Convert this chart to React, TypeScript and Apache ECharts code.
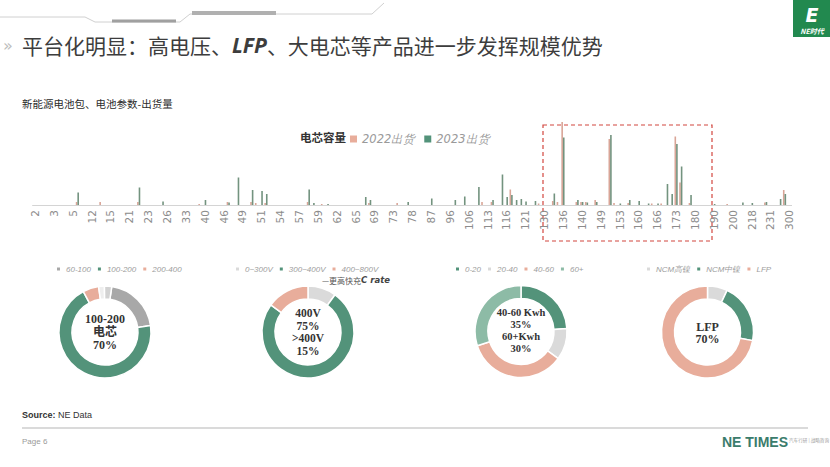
import React, { useEffect, useRef } from 'react';
import * as echarts from 'echarts';

// ---------- data ----------
const capacityCategories: string[] = [
  '2', '2.2', '2.5', '2.8', '3', '3.5', '4', '4.5', '5', '6', '8', '10',
  '12', '13', '14', '14.5', '15', '17', '19', '20', '21', '21.5', '22', '22.5',
  '23', '24', '25', '25.5', '26', '28', '30', '32', '33', '35', '37', '38',
  '40', '42', '43', '45', '46', '47', '48', '48.5', '49', '50', '50.5', '50.8',
  '51', '52', '52.5', '53', '54', '55', '56', '56.5', '57', '57.5', '58', '58.5',
  '59', '60', '60.5', '61', '62', '63', '64', '64.5', '65', '66', '67', '68',
  '69', '70', '71', '72', '73', '74', '75', '76', '78', '80', '82', '85',
  '87', '89', '92', '94', '96', '100', '102', '104', '106', '108', '110', '112',
  '113', '114', '114.5', '115', '116', '117', '118', '120', '121', '123', '125', '128',
  '130', '132', '133', '135', '136', '137', '138', '139', '140', '142', '145', '148',
  '149', '150', '151', '152', '153', '155', '156', '158', '160', '161', '163', '165',
  '166', '168', '170', '172', '173', '174', '176', '178', '180', '182', '184', '187',
  '190', '192', '195', '198', '200', '205', '210', '215', '218', '220', '225', '228',
  '231', '240', '250', '280', '300',
];

const shipments2022: [string, number][] = [
  ['6', 3], ['14', 3], ['22', 3], ['38', 1], ['47', 3], ['50.5', 3], ['50.8', 2],
  ['52', 2], ['58', 3], ['60', 1], ['68', 2], ['74', 2], ['112', 3], ['114', 3],
  ['117', 15.5], ['128', 1.5], ['133', 4], ['135', 3], ['136', 83], ['139', 3],
  ['140', 3], ['142', 3], ['148', 5], ['151', 66], ['152', 2], ['156', 2],
  ['165', 1.5], ['168', 1.5], ['173', 68.5], ['174', 22.5], ['178', 2], ['198', 1],
  ['228', 2.5], ['280', 15],
];

const shipments2023: [string, number][] = [
  ['6', 12.5], ['22', 17.5], ['25.5', 3.5], ['40', 5], ['47', 2.5], ['48.5', 27.5],
  ['50.5', 15], ['51', 14], ['52', 11], ['58', 15.5], ['58.5', 2], ['60.5', 1],
  ['67', 8], ['68', 5], ['76', 3], ['87', 6.5], ['100', 5], ['104', 8.5], ['110', 18],
  ['114', 5], ['115', 30.5], ['116', 8], ['117', 10], ['118', 5], ['120', 6],
  ['121', 3.5], ['125', 4], ['133', 11.5], ['136', 67.5], ['139', 5], ['140', 3],
  ['142', 2.5], ['148', 3], ['151', 70], ['153', 1.5], ['156', 5], ['160', 4],
  ['163', 1.5], ['166', 1.5], ['170', 21], ['172', 11], ['173', 61], ['174', 38.5],
  ['178', 10], ['190', 1], ['210', 2.5], ['218', 2], ['228', 3], ['250', 6], ['280', 11],
];

const barSeriesNames = ['2022出货', '2023出货'];

const cellCapNames = ['60-100', '100-200', '200-400', '400+', '<60'];
const cellCapShares = [20, 68, 5.5, 2, 2.5];

const voltageNames = ['0~300V', '300~400V', '400~800V'];
const voltageShares = [10, 75, 15];

const energyNames = ['0-20', '20-40', '40-60', '60+'];
const energyShares = [24, 11, 35, 30];

const chemistryNames = ['NCM高镍', 'NCM中镍', 'LFP'];
const chemistryShares = [7, 21, 72];

// ---------- styles ----------
const PINK = '#e8ad9b';
const GREEN = '#53937a';
const LGRAY = '#dadada';
const MGRAY = '#a8a8a8';
const LGREEN = '#8dbba6';

const cellCapColors = [MGRAY, GREEN, PINK, '#eeeeee', '#d2d2d2'];
const voltageColors = [LGRAY, GREEN, PINK];
const energyColors = [GREEN, LGRAY, PINK, LGREEN];
const chemistryColors = [LGRAY, GREEN, PINK];

function fullSeries(pairs: [string, number][]): number[] {
  const m = new Map(pairs);
  return capacityCategories.map((c) => m.get(c) ?? 0);
}

function pieData(names: string[], vals: number[], colors: string[]) {
  return names.map((n, i) => ({ name: n, value: vals[i], itemStyle: { color: colors[i] } }));
}

function pieSeries(name: string, center: number[], startAngle: number, data: any[]) {
  return {
    type: 'pie',
    name,
    center,
    radius: [33, 46],
    startAngle,
    clockwise: true,
    silent: true,
    label: { show: false },
    labelLine: { show: false },
    emphasis: { disabled: true },
    itemStyle: { borderColor: '#ffffff', borderWidth: 1.5 },
    data,
  };
}

const pieLegendBase = {
  orient: 'horizontal',
  itemWidth: 5,
  itemHeight: 5,
  itemGap: 5,
  icon: 'rect',
  selectedMode: false,
  textStyle: { fontSize: 8, color: '#9d9d9d', fontStyle: 'italic', fontFamily: 'Liberation Sans' },
  padding: 0,
};

const centerText = (text: string, x: number, y: number, lh: number, size = 12) => ({
  type: 'text',
  style: {
    text,
    x,
    y,
    align: 'center',
    verticalAlign: 'middle',
    fontSize: size,
    fontWeight: 'bold',
    fontFamily: 'Liberation Serif, Noto Sans CJK SC',
    lineHeight: lh,
    fill: '#333333',
  },
});

export default function App() {
  const ref = useRef<HTMLDivElement>(null);
  useEffect(() => {
    if (!ref.current) return;
    const chart = echarts.init(ref.current, undefined, { renderer: 'svg' });
    const option: any = {
      animation: false,
      backgroundColor: '#ffffff',
      grid: { left: 32.6, right: 38.4, top: 120, bottom: 262, containLabel: false },
      xAxis: {
        type: 'category',
        data: capacityCategories,
        axisLine: { lineStyle: { color: '#d4d4d4', width: 1 } },
        axisTick: { show: false },
        axisLabel: {
          interval: 3,
          rotate: 90,
          fontSize: 10.5,
          color: '#8c8c8c',
          margin: 5,
          fontFamily: 'DejaVu Sans',
        },
      },
      yAxis: { type: 'value', min: 0, max: 85, show: false, splitLine: { show: false } },
      legend: [
        {
          data: [
            { name: barSeriesNames[0], itemStyle: { color: PINK } },
            { name: barSeriesNames[1], itemStyle: { color: GREEN } },
          ],
          left: 350,
          top: 133,
          itemWidth: 7,
          itemHeight: 7,
          itemGap: 9,
          icon: 'rect',
          selectedMode: false,
          padding: 0,
          textStyle: { fontSize: 11.5, color: '#9a9a9a', fontStyle: 'italic', fontFamily: 'DejaVu Sans' },
        },
        { ...pieLegendBase, data: cellCapNames.slice(0, 3), left: 55, top: 265 },
        { ...pieLegendBase, data: voltageNames, left: 234, top: 265 },
        { ...pieLegendBase, data: energyNames, left: 454, top: 265 },
        { ...pieLegendBase, data: chemistryNames, left: 645, top: 265 },
      ],
      series: [
        {
          type: 'bar',
          name: barSeriesNames[0],
          data: fullSeries(shipments2022),
          barWidth: 1.6,
          barGap: '0%',
          itemStyle: { color: '#d9a597' },
          silent: true,
        },
        {
          type: 'bar',
          name: barSeriesNames[1],
          data: fullSeries(shipments2023),
          barWidth: 1.6,
          barGap: '0%',
          itemStyle: { color: '#73937f' },
          silent: true,
        },
        pieSeries('电芯', [105, 332], 81.5, pieData(cellCapNames, cellCapShares, cellCapColors)),
        pieSeries('电压', [308, 332], 90, pieData(voltageNames, voltageShares, voltageColors)),
        pieSeries('电量', [521, 331.5], 90, pieData(energyNames, energyShares, energyColors)),
        pieSeries('材料', [707.5, 332], 90, pieData(chemistryNames, chemistryShares, chemistryColors)),
      ],
      graphic: [
        // top decoration
        {
          type: 'polyline',
          shape: { points: [[0, 17], [85, 17], [95, 22], [180, 22], [190, 14], [372, 14], [384, 3]] },
          style: { stroke: '#d0d0d0', lineWidth: 1, fill: 'none' },
        },
        { type: 'line', shape: { x1: 112, y1: 21, x2: 176, y2: 21 }, style: { stroke: '#a0a0a0', lineWidth: 3 } },
        { type: 'line', shape: { x1: 192, y1: 13, x2: 276, y2: 13 }, style: { stroke: '#b0b0b0', lineWidth: 4 } },
        // logo
        { type: 'rect', shape: { x: 793, y: 0, width: 37, height: 37 }, style: { fill: '#22894f' } },
        {
          type: 'text',
          style: { text: 'E', x: 812, y: 15, align: 'center', verticalAlign: 'middle', fontSize: 19, fontWeight: 'bold', fontStyle: 'italic', fontFamily: 'DejaVu Sans', fill: '#ffffff' },
        },
        {
          type: 'text',
          style: { text: 'NE时代', x: 812, y: 31, align: 'center', verticalAlign: 'middle', fontSize: 7, fontWeight: 'bold', fontStyle: 'italic', fontFamily: 'Noto Sans CJK SC', fill: '#ffffff' },
        },
        // title
        {
          type: 'text',
          style: { text: '»', x: 3, y: 45, verticalAlign: 'middle', fontSize: 16, fill: '#bdbdbd', fontFamily: 'DejaVu Sans' },
        },
        {
          type: 'text',
          style: {
            text: '{a|平台化明显：高电压、}{b|LFP}{a|、大电芯等产品进一步发挥规模优势}',
            x: 22,
            y: 45,
            verticalAlign: 'middle',
            rich: {
              a: { fontSize: 21, fontFamily: 'Noto Sans CJK SC', fill: '#3d3d3d', color: '#3d3d3d' },
              b: { fontSize: 21, fontWeight: 'bold', fontStyle: 'italic', fontFamily: 'Noto Sans', fill: '#3d3d3d', color: '#3d3d3d' },
            },
          },
        },
        {
          type: 'text',
          style: { text: '新能源电池包、电池参数-出货量', x: 22, y: 103, verticalAlign: 'middle', fontSize: 10.5, fontFamily: 'Noto Sans CJK SC', fill: '#2b2b2b' },
        },
        {
          type: 'text',
          style: { text: '电芯容量', x: 300, y: 137, verticalAlign: 'middle', fontSize: 11.5, fontWeight: 'bold', fontFamily: 'Noto Sans CJK SC', fill: '#333333' },
        },
        // red dashed box
        {
          type: 'rect',
          shape: { x: 543, y: 125, width: 169, height: 116 },
          style: { fill: 'none', stroke: '#d2463f', lineWidth: 1.2, lineDash: [4, 3] },
        },
        // note under voltage legend
        {
          type: 'text',
          style: { text: '—更高快充{c|C rate}', x: 390, y: 280, align: 'right', verticalAlign: 'middle', fontSize: 8, fontFamily: 'Noto Sans CJK SC', fill: '#555555',
            rich: { c: { fontSize: 8.5, fontStyle: 'italic', fontWeight: 'bold', fontFamily: 'DejaVu Sans', fill: '#444444' } } },
        },
        // donut centre texts
        centerText('100-200\n电芯\n70%', 105, 332, 12.6),
        centerText('400V\n75%\n>400V\n15%', 308, 332, 12.6, 11.5),
        centerText('40-60 Kwh\n35%\n60+Kwh\n30%', 521, 330.5, 11.7, 10.5),
        centerText('LFP\n70%', 707.5, 333, 12.6),
        // footer
        {
          type: 'text',
          style: {
            text: '{b|Source:} NE Data',
            x: 22,
            y: 415,
            verticalAlign: 'middle',
            fontSize: 9,
            fontFamily: 'Liberation Sans',
            fill: '#333333',
            rich: { b: { fontSize: 9, fontWeight: 'bold', fontFamily: 'Liberation Sans', fill: '#333333' } },
          },
        },
        { type: 'line', shape: { x1: 22, y1: 428, x2: 808, y2: 428 }, style: { stroke: '#b5b5b5', lineWidth: 1 } },
        {
          type: 'text',
          style: { text: 'Page 6', x: 22, y: 441, verticalAlign: 'middle', fontSize: 8, fontFamily: 'Liberation Sans', fill: '#9a9a9a' },
        },
        {
          type: 'text',
          style: { text: 'NE TIMES', x: 788, y: 442, align: 'right', verticalAlign: 'middle', fontSize: 14, fontWeight: 'bold', fontFamily: 'Liberation Sans', fill: '#3b7c6c' },
        },
        {
          type: 'text',
          style: { text: '汽车行研 | 战略咨询', x: 789, y: 440, verticalAlign: 'middle', fontSize: 4.6, fontFamily: 'Noto Sans CJK SC', fill: '#9a9a9a' },
        },
      ],
    };
    chart.setOption(option);
    return () => chart.dispose();
  }, []);
  return (
    <div
      ref={ref}
      style={{ position: 'absolute', left: 0, top: 0, width: 830, height: 467, background: '#ffffff' }}
    />
  );
}
